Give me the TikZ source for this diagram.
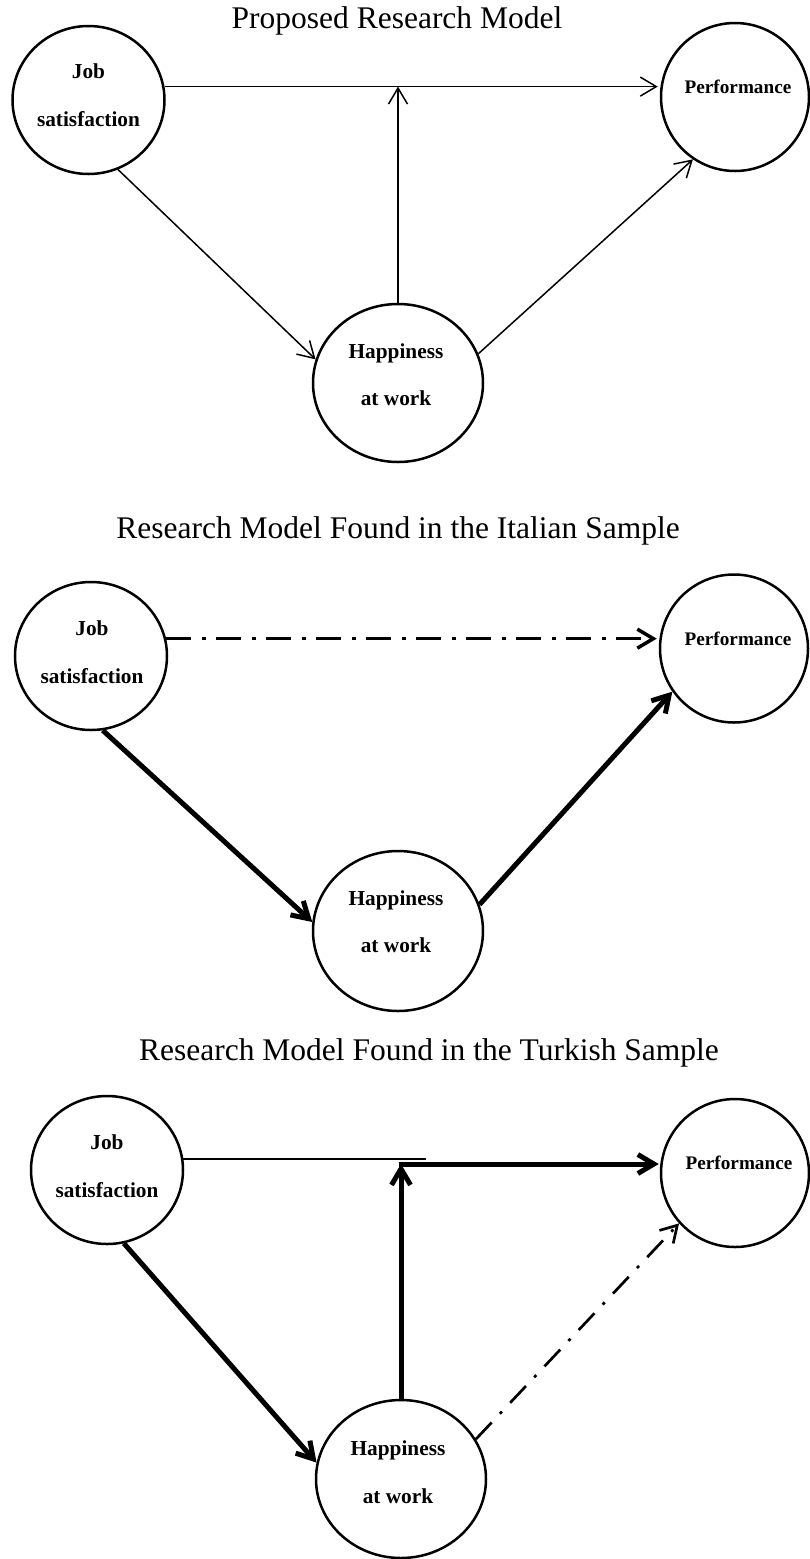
\documentclass[tikz,border=0pt]{standalone}
\usepackage{fontspec}
\setmainfont{Liberation Serif}
\usetikzlibrary{arrows.meta,shapes.geometric}
\begin{document}
\begin{tikzpicture}[x=1pt,y=-1pt,
  circ/.style={draw, ellipse, line width=2.5pt, inner sep=0pt},
  ttl/.style={anchor=base, inner sep=0pt, font=\fontsize{31.5}{36}\selectfont},
  lbl/.style={anchor=base, inner sep=0pt, font=\bfseries\fontsize{21.3}{24}\selectfont},
  plbl/.style={anchor=base, inner sep=0pt, font=\bfseries\fontsize{19.2}{22}\selectfont},
  barb/.style={-{Straight Barb[length=16pt,width=19pt]}},
  thinarr/.style={barb, line width=1.5pt},
  thickarr/.style={barb, line width=5pt},
  ddarr/.style={barb, line width=3.5pt, dash pattern=on 25pt off 11pt on 4pt off 10pt},
  ddthin/.style={barb, line width=2.7pt, dash pattern=on 23pt off 12pt on 3pt off 12pt},
  plainline/.style={line width=2pt}
]
\useasboundingbox (0,0) rectangle (809,1559);
\fill[white] (0,0) rectangle (809,1559);

% ---------- Panel 1 ----------
\node[ttl] (t1) at (397,28) {Proposed Research Model};
\node[circ,minimum width=152pt,minimum height=148pt] (js1) at (88.5,100) {};
\node[circ,minimum width=148pt,minimum height=148pt] (pf1) at (735,97) {};
\node[circ,minimum width=170pt,minimum height=158pt] (hw1) at (398,383) {};
\node[lbl] (js1a) at (88.5,78) {Job};
\node[lbl] (js1b) at (88.5,126) {satisfaction};
\node[plbl] (pf1a) at (738,93) {Performance};
\node[lbl] (hw1a) at (396,358) {Happiness};
\node[lbl] (hw1b) at (396,405) {at work};
\draw[thinarr, shorten >=2pt] (js1.10) -- (js1.10 -| pf1.west);
\draw[thinarr] (hw1.north) -- (hw1.north |- js1.10);
\draw[thinarr] (js1.293) -- (hw1.164);
\draw[thinarr] (hw1.20) -- (pf1.236);

% ---------- Panel 2 ----------
\node[ttl] (t2) at (398,538.5) {Research Model Found in the Italian Sample};
\node[circ,minimum width=152pt,minimum height=148pt] (js2) at (91,656) {};
\node[circ,minimum width=148pt,minimum height=148pt] (pf2) at (734,648.5) {};
\node[circ,minimum width=170pt,minimum height=160pt] (hw2) at (398,931) {};
\node[lbl] (js2a) at (92,635) {Job};
\node[lbl] (js2b) at (92,683) {satisfaction};
\node[plbl] (pf2a) at (738,645) {Performance};
\node[lbl] (hw2a) at (396,905) {Happiness};
\node[lbl] (hw2b) at (396,952) {at work};
\draw[ddarr, shorten >=2pt] (js2.13) -- (js2.13 -| pf2.west);
\draw[thickarr] (js2.279) -- (hw2.174);
\draw[thickarr] (hw2.18) -- (pf2.215);

% ---------- Panel 3 ----------
\node[ttl] (t3) at (429,1060.5) {Research Model Found in the Turkish Sample};
\node[circ,minimum width=152pt,minimum height=148pt] (js3) at (107,1170) {};
\node[circ,minimum width=148pt,minimum height=148pt] (pf3) at (735,1173) {};
\node[circ,minimum width=170pt,minimum height=158pt] (hw3) at (401,1479) {};
\node[lbl] (js3a) at (107,1149) {Job};
\node[lbl] (js3b) at (107,1197) {satisfaction};
\node[plbl] (pf3a) at (739,1169.5) {Performance};
\node[lbl] (hw3a) at (398,1455) {Happiness};
\node[lbl] (hw3b) at (398,1503) {at work};
\coordinate (e3) at (426,1159);
\coordinate (j3) at (401,1164);
\draw[plainline] (js3.8) -- (js3.8 -| e3);
\draw[thickarr] (hw3.north) -- (hw3.north |- j3);
\draw[thickarr, shorten >=1pt] ([xshift=-2.5pt]hw3.north |- j3) -- (j3 -| pf3.west);
\draw[thickarr] (js3.283) -- (hw3.169);
\draw[ddthin] (hw3.28) -- (pf3.222);
\end{tikzpicture}
\end{document}
